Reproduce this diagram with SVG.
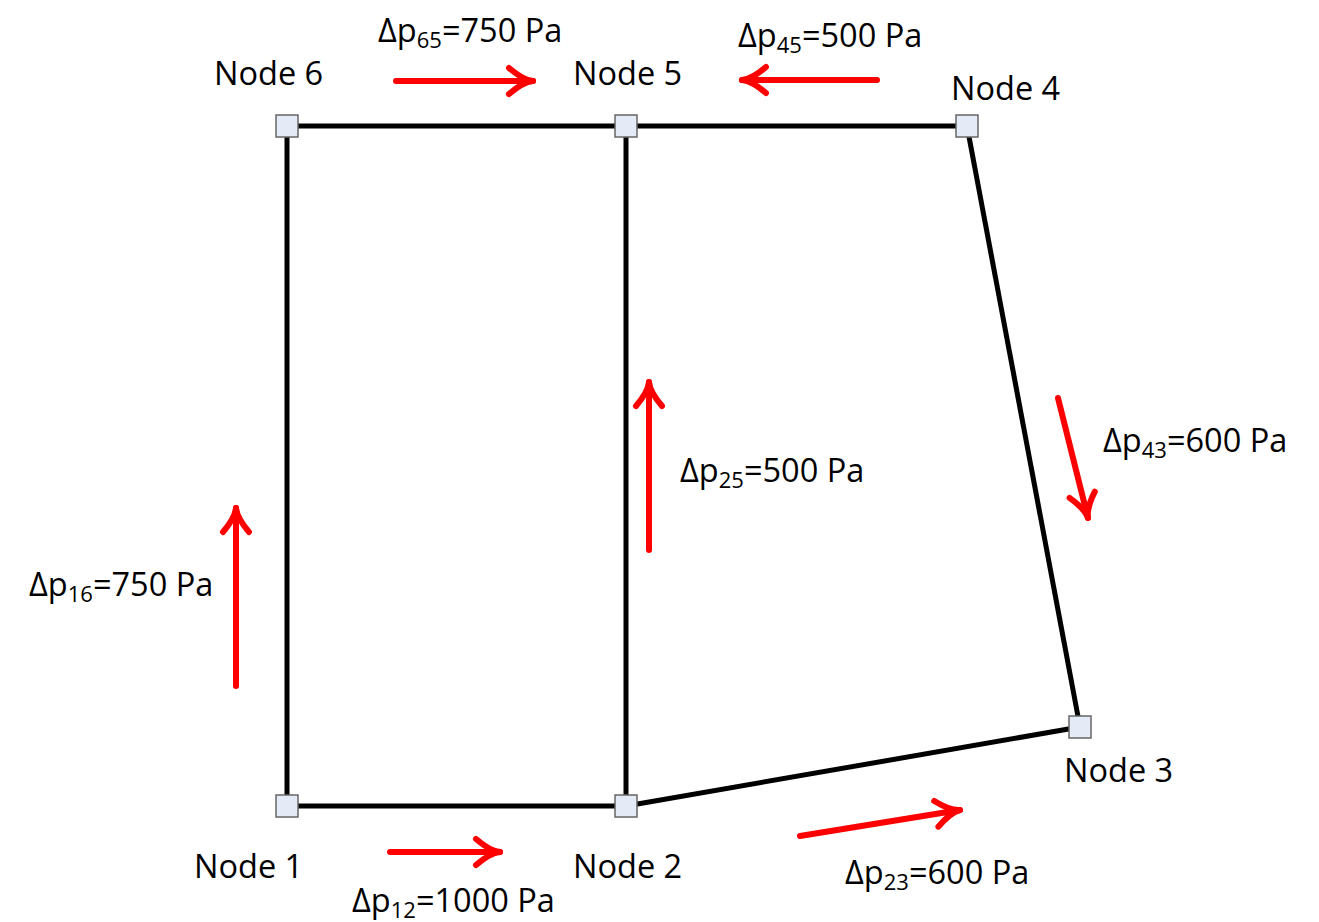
<svg xmlns="http://www.w3.org/2000/svg" width="1319" height="922" viewBox="0 0 1319 922">
<style>
text{font-family:"Open Sans","Noto Sans","Liberation Sans",sans-serif;font-size:32.5px;fill:#000}
.sub{font-size:22px}
.edge{stroke:#000;stroke-width:5;fill:none}
.flow{stroke:#ff0000;stroke-width:6;fill:none;stroke-linecap:round}
.node rect{fill:#e4ebf6;stroke:#666;stroke-width:1.5}
</style>
<defs>
<marker id="ah" markerUnits="userSpaceOnUse" orient="auto" markerWidth="40" markerHeight="40" refX="0" refY="0" viewBox="-30 -20 40 40" overflow="visible">
<path d="M-24,-13 Q-10,-1 0,0 Q-10,1 -24,13" fill="none" stroke="#ff0000" stroke-width="6" stroke-linecap="round" stroke-linejoin="round"/>
</marker>
</defs>
<rect width="1319" height="922" fill="#fff"/>
<g id="connectors">
<line class="edge" x1="287" y1="126" x2="626" y2="126"/>
<line class="edge" x1="626" y1="126" x2="967" y2="126"/>
<line class="edge" x1="287" y1="126" x2="287" y2="806"/>
<line class="edge" x1="626" y1="126" x2="626" y2="806"/>
<line class="edge" x1="287" y1="806" x2="626" y2="806"/>
<line class="edge" x1="626" y1="806" x2="1080" y2="727"/>
<line class="edge" x1="967" y1="126" x2="1080" y2="727"/>
</g>
<g id="flows">
<line class="flow" x1="396" y1="81" x2="533" y2="81" marker-end="url(#ah)"/>
<line class="flow" x1="877" y1="80" x2="742" y2="80" marker-end="url(#ah)"/>
<line class="flow" x1="1058" y1="398" x2="1088" y2="518" marker-end="url(#ah)"/>
<line class="flow" x1="649" y1="550" x2="649" y2="382" marker-end="url(#ah)"/>
<line class="flow" x1="236" y1="686" x2="236" y2="508" marker-end="url(#ah)"/>
<line class="flow" x1="390" y1="852" x2="500" y2="852" marker-end="url(#ah)"/>
<line class="flow" x1="800" y1="836" x2="960" y2="810" marker-end="url(#ah)"/>
</g>
<g id="node1" class="node"><rect x="276" y="795" width="22" height="22"/><text x="194" y="878">Node 1</text></g>
<g id="node2" class="node"><rect x="615" y="795" width="22" height="22"/><text x="573" y="878">Node 2</text></g>
<g id="node3" class="node"><rect x="1069" y="716" width="22" height="22"/><text x="1064" y="782">Node 3</text></g>
<g id="node4" class="node"><rect x="956" y="115" width="22" height="22"/><text x="951" y="100">Node 4</text></g>
<g id="node5" class="node"><rect x="615" y="115" width="22" height="22"/><text x="573" y="85">Node 5</text></g>
<g id="node6" class="node"><rect x="276" y="115" width="22" height="22"/><text x="214" y="85">Node 6</text></g>
<g id="labels">
<text x="378" y="42">Δp<tspan class="sub" dy="6">65</tspan><tspan dy="-6">=750 Pa</tspan></text>
<text x="738" y="47">Δp<tspan class="sub" dy="6">45</tspan><tspan dy="-6">=500 Pa</tspan></text>
<text x="1103" y="452">Δp<tspan class="sub" dy="6">43</tspan><tspan dy="-6">=600 Pa</tspan></text>
<text x="680" y="482">Δp<tspan class="sub" dy="6">25</tspan><tspan dy="-6">=500 Pa</tspan></text>
<text x="29" y="596">Δp<tspan class="sub" dy="6">16</tspan><tspan dy="-6">=750 Pa</tspan></text>
<text x="352" y="912">Δp<tspan class="sub" dy="6">12</tspan><tspan dy="-6">=1000 Pa</tspan></text>
<text x="845" y="884">Δp<tspan class="sub" dy="6">23</tspan><tspan dy="-6">=600 Pa</tspan></text>
</g>
</svg>
